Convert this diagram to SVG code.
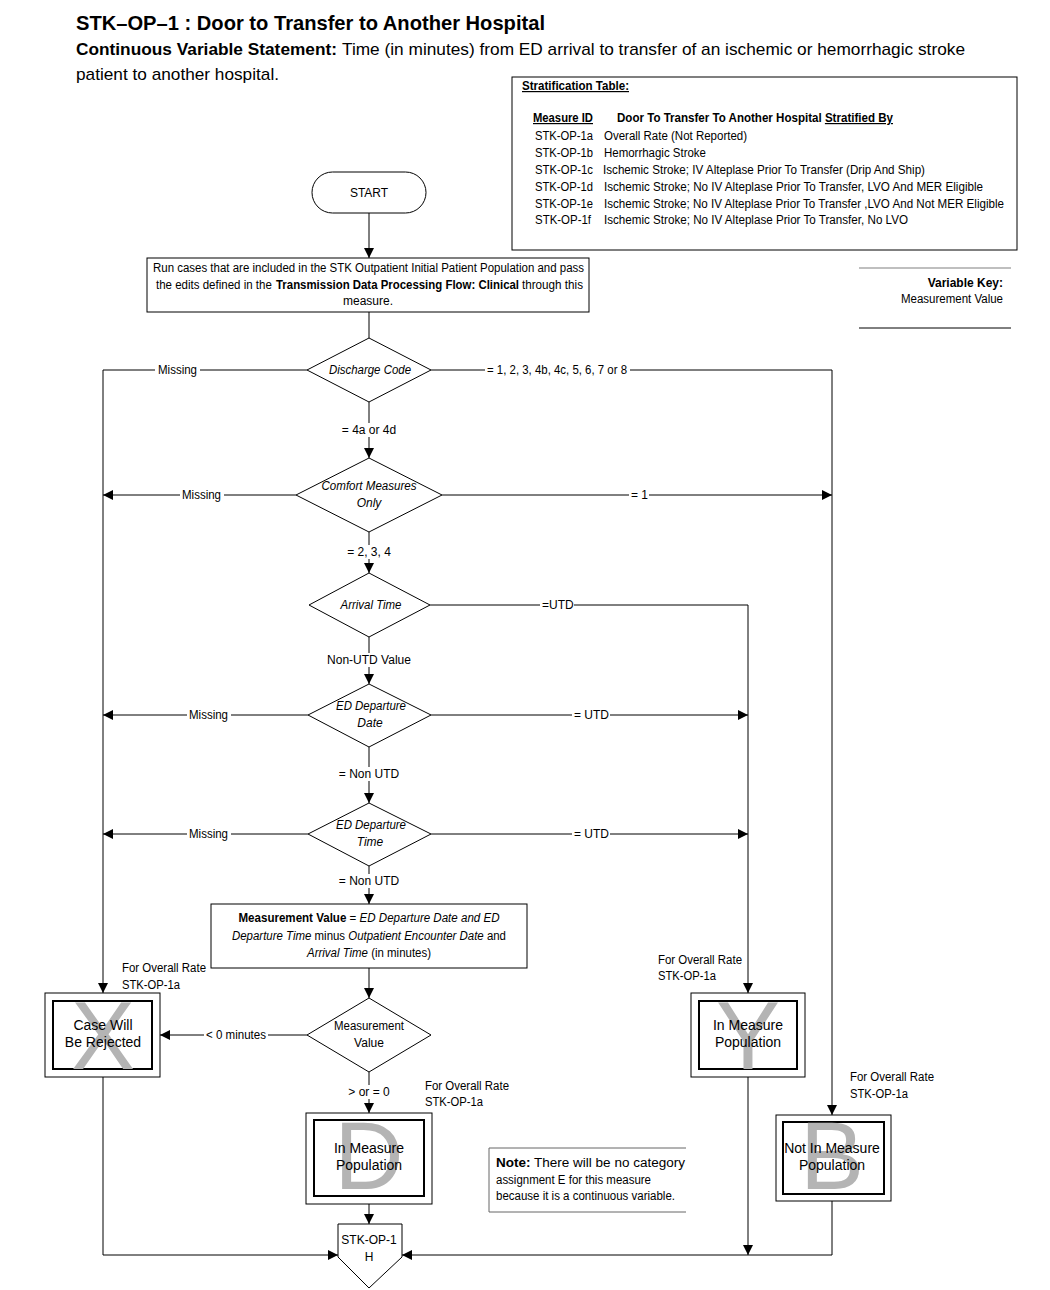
<svg xmlns="http://www.w3.org/2000/svg" width="1050" height="1290" viewBox="0 0 1050 1290">
<style>
text{font-family:"Liberation Sans",Arial,sans-serif;fill:#000}
.t12{font-size:12px}
.t14{font-size:14px}
.it{font-style:italic}
.b{font-weight:bold}
.mid{text-anchor:middle}
.end{text-anchor:end}
.box{fill:#fff;stroke:#000;stroke-width:1}
.inner{fill:none;stroke:#000;stroke-width:2}
.big{font-size:96px;fill:#b4b4b4;text-anchor:middle}
.ln{fill:none;stroke:#000;stroke-width:1}
.ul{text-decoration:underline}
</style>
<defs>
<marker id="ah" markerUnits="userSpaceOnUse" markerWidth="10" markerHeight="10" viewBox="0 0 10 10" refX="10" refY="5" orient="auto">
<path d="M0,0 L10,5 L0,10 z" fill="#000"/>
</marker>
</defs>
<rect width="1050" height="1290" fill="#fff"/>

<g id="title">
<text x="76" y="30" font-size="21" class="b" textLength="469" lengthAdjust="spacingAndGlyphs">STK–OP–1 : Door to Transfer to Another Hospital</text>
<text x="76" y="55" font-size="17" class="b" textLength="261" lengthAdjust="spacingAndGlyphs">Continuous Variable Statement:</text>
<text x="342" y="55" font-size="17" textLength="623" lengthAdjust="spacingAndGlyphs">Time (in minutes) from ED arrival to transfer of an ischemic or hemorrhagic stroke</text>
<text x="76" y="80" font-size="17" textLength="203" lengthAdjust="spacingAndGlyphs">patient to another hospital.</text>
</g>

<g id="strat-table">
<rect x="512" y="77" width="505" height="173" class="box"/>
<text x="522" y="90" class="t12 b ul" textLength="107" lengthAdjust="spacingAndGlyphs">Stratification Table:</text>
<text x="533" y="122" class="t12 b ul" textLength="60" lengthAdjust="spacingAndGlyphs">Measure ID</text>
<text x="617" y="122" class="t12 b" textLength="276" lengthAdjust="spacingAndGlyphs">Door To Transfer To Another Hospital <tspan class="ul">Stratified By</tspan></text>
<text x="535" y="140" class="t12" textLength="58" lengthAdjust="spacingAndGlyphs">STK-OP-1a</text>
<text x="604" y="140" class="t12" textLength="143" lengthAdjust="spacingAndGlyphs">Overall Rate (Not Reported)</text>
<text x="535" y="157" class="t12" textLength="58" lengthAdjust="spacingAndGlyphs">STK-OP-1b</text>
<text x="604" y="157" class="t12" textLength="102" lengthAdjust="spacingAndGlyphs">Hemorrhagic Stroke</text>
<text x="535" y="174" class="t12" textLength="58" lengthAdjust="spacingAndGlyphs">STK-OP-1c</text>
<text x="603" y="174" class="t12" textLength="322" lengthAdjust="spacingAndGlyphs">Ischemic Stroke; IV Alteplase Prior To Transfer (Drip And Ship)</text>
<text x="535" y="191" class="t12" textLength="58" lengthAdjust="spacingAndGlyphs">STK-OP-1d</text>
<text x="604" y="191" class="t12" textLength="379" lengthAdjust="spacingAndGlyphs">Ischemic Stroke; No IV Alteplase Prior To Transfer, LVO And MER Eligible</text>
<text x="535" y="208" class="t12" textLength="58" lengthAdjust="spacingAndGlyphs">STK-OP-1e</text>
<text x="604" y="208" class="t12" textLength="400" lengthAdjust="spacingAndGlyphs">Ischemic Stroke; No IV Alteplase Prior To Transfer ,LVO And Not MER Eligible</text>
<text x="535" y="224" class="t12" textLength="56" lengthAdjust="spacingAndGlyphs">STK-OP-1f</text>
<text x="604" y="224" class="t12" textLength="304" lengthAdjust="spacingAndGlyphs">Ischemic Stroke; No IV Alteplase Prior To Transfer, No LVO</text>
</g>

<g id="variable-key">
<line x1="859" y1="268" x2="1011" y2="268" stroke="#808080" stroke-width="1.2"/>
<text x="1003" y="287" class="t12 b end">Variable  Key:</text>
<text x="1003" y="303" class="t12 end" textLength="102" lengthAdjust="spacingAndGlyphs">Measurement Value</text>
<line x1="859" y1="328" x2="1011" y2="328" stroke="#000" stroke-width="1"/>
</g>

<g id="connectors">
<line x1="369" y1="213" x2="369" y2="258" class="ln" marker-end="url(#ah)"/>
<line x1="369" y1="312" x2="369" y2="338" class="ln"/>
<polyline points="307,370 103,370 103,993" class="ln" marker-end="url(#ah)"/>
<polyline points="431,370 832,370 832,1115" class="ln" marker-end="url(#ah)"/>
<line x1="369" y1="402" x2="369" y2="458" class="ln" marker-end="url(#ah)"/>
<line x1="296" y1="495" x2="103" y2="495" class="ln" marker-end="url(#ah)"/>
<line x1="442" y1="495" x2="832" y2="495" class="ln" marker-end="url(#ah)"/>
<line x1="369" y1="532" x2="369" y2="573" class="ln" marker-end="url(#ah)"/>
<polyline points="430,605 748,605 748,993" class="ln" marker-end="url(#ah)"/>
<line x1="369" y1="637" x2="369" y2="684" class="ln" marker-end="url(#ah)"/>
<line x1="308" y1="715" x2="103" y2="715" class="ln" marker-end="url(#ah)"/>
<line x1="431" y1="715" x2="748" y2="715" class="ln" marker-end="url(#ah)"/>
<line x1="369" y1="747" x2="369" y2="803" class="ln" marker-end="url(#ah)"/>
<line x1="308" y1="834" x2="103" y2="834" class="ln" marker-end="url(#ah)"/>
<line x1="431" y1="834" x2="748" y2="834" class="ln" marker-end="url(#ah)"/>
<line x1="369" y1="866" x2="369" y2="904" class="ln" marker-end="url(#ah)"/>
<line x1="369" y1="968" x2="369" y2="998" class="ln" marker-end="url(#ah)"/>
<line x1="307" y1="1035" x2="160" y2="1035" class="ln" marker-end="url(#ah)"/>
<line x1="369" y1="1072" x2="369" y2="1113" class="ln" marker-end="url(#ah)"/>
<line x1="369" y1="1204" x2="369" y2="1224" class="ln" marker-end="url(#ah)"/>
<polyline points="103,1077 103,1255 338,1255" class="ln" marker-end="url(#ah)"/>
<polyline points="832,1201 832,1255 402,1255" class="ln" marker-end="url(#ah)"/>
<line x1="748" y1="1077" x2="748" y2="1255" class="ln" marker-end="url(#ah)"/>
</g>

<g id="labels">
<rect x="155" y="363" width="45" height="14" fill="#fff"/>
<text x="158" y="374" class="t12" textLength="39" lengthAdjust="spacingAndGlyphs">Missing</text>
<rect x="485" y="363" width="145" height="14" fill="#fff"/>
<text x="487" y="374" class="t12" textLength="140" lengthAdjust="spacingAndGlyphs">= 1, 2, 3, 4b, 4c, 5, 6, 7 or 8</text>
<rect x="340" y="423" width="60" height="14" fill="#fff"/>
<text x="369" y="434" class="t12 mid">= 4a or 4d</text>
<rect x="180" y="488" width="44" height="14" fill="#fff"/>
<text x="182" y="499" class="t12" textLength="39" lengthAdjust="spacingAndGlyphs">Missing</text>
<rect x="629" y="488" width="20" height="14" fill="#fff"/>
<text x="631" y="499" class="t12">= 1</text>
<rect x="342" y="545" width="54" height="14" fill="#fff"/>
<text x="369" y="556" class="t12 mid">= 2, 3, 4</text>
<rect x="540" y="598" width="34" height="14" fill="#fff"/>
<text x="542" y="609" class="t12">=UTD</text>
<rect x="326" y="653" width="86" height="14" fill="#fff"/>
<text x="369" y="664" class="t12 mid">Non-UTD Value</text>
<rect x="187" y="708" width="44" height="14" fill="#fff"/>
<text x="189" y="719" class="t12" textLength="39" lengthAdjust="spacingAndGlyphs">Missing</text>
<rect x="572" y="708" width="38" height="14" fill="#fff"/>
<text x="574" y="719" class="t12">= UTD</text>
<rect x="338" y="767" width="62" height="14" fill="#fff"/>
<text x="369" y="778" class="t12 mid">= Non UTD</text>
<rect x="187" y="827" width="44" height="14" fill="#fff"/>
<text x="189" y="838" class="t12" textLength="39" lengthAdjust="spacingAndGlyphs">Missing</text>
<rect x="572" y="827" width="38" height="14" fill="#fff"/>
<text x="574" y="838" class="t12">= UTD</text>
<rect x="338" y="874" width="62" height="14" fill="#fff"/>
<text x="369" y="885" class="t12 mid">= Non UTD</text>
<rect x="204" y="1028" width="64" height="14" fill="#fff"/>
<text x="206" y="1039" class="t12" textLength="60" lengthAdjust="spacingAndGlyphs">&lt; 0 minutes</text>
<rect x="344" y="1085" width="50" height="14" fill="#fff"/>
<text x="369" y="1096" class="t12 mid">&gt; or = 0</text>
<text x="122" y="972" class="t12" textLength="84" lengthAdjust="spacingAndGlyphs">For Overall Rate</text>
<text x="122" y="989" class="t12" textLength="58" lengthAdjust="spacingAndGlyphs">STK-OP-1a</text>
<text x="658" y="964" class="t12" textLength="84" lengthAdjust="spacingAndGlyphs">For Overall Rate</text>
<text x="658" y="980" class="t12" textLength="58" lengthAdjust="spacingAndGlyphs">STK-OP-1a</text>
<text x="425" y="1090" class="t12" textLength="84" lengthAdjust="spacingAndGlyphs">For Overall Rate</text>
<text x="425" y="1106" class="t12" textLength="58" lengthAdjust="spacingAndGlyphs">STK-OP-1a</text>
<text x="850" y="1081" class="t12" textLength="84" lengthAdjust="spacingAndGlyphs">For Overall Rate</text>
<text x="850" y="1098" class="t12" textLength="58" lengthAdjust="spacingAndGlyphs">STK-OP-1a</text>
</g>

<g id="start">
<rect x="312" y="172" width="114" height="41" rx="20.5" ry="20.5" class="box"/>
<text x="369" y="197" class="t12 mid">START</text>
</g>

<g id="run-cases">
<rect x="147" y="258" width="442" height="54" class="box"/>
<text x="153" y="272" class="t12" textLength="431" lengthAdjust="spacingAndGlyphs">Run cases that are included in the STK Outpatient Initial Patient Population and pass</text>
<text x="156" y="289" class="t12">
<tspan textLength="119" lengthAdjust="spacingAndGlyphs">the edits defined in the </tspan><tspan x="276" class="b" textLength="243" lengthAdjust="spacingAndGlyphs">Transmission Data Processing Flow: Clinical</tspan><tspan x="522" textLength="61" lengthAdjust="spacingAndGlyphs">through this</tspan></text>
<text x="368" y="305" class="t12 mid">measure.</text>
</g>

<g id="discharge-code">
<polygon points="369,338 431,370 369,402 307,370" class="box"/>
<text x="370" y="374" class="t12 it mid" textLength="82" lengthAdjust="spacingAndGlyphs">Discharge Code</text>
</g>

<g id="comfort-measures">
<polygon points="369,458 442,495 369,532 296,495" class="box"/>
<text x="369" y="490" class="t12 it mid" textLength="95" lengthAdjust="spacingAndGlyphs">Comfort Measures</text>
<text x="369" y="507" class="t12 it mid">Only</text>
</g>

<g id="arrival-time">
<polygon points="369,573 430,605 369,637 309,605" class="box"/>
<text x="371" y="609" class="t12 it mid" textLength="61" lengthAdjust="spacingAndGlyphs">Arrival Time</text>
</g>

<g id="ed-departure-date">
<polygon points="369,684 431,715 369,747 308,715" class="box"/>
<text x="371" y="710" class="t12 it mid" textLength="70" lengthAdjust="spacingAndGlyphs">ED Departure</text>
<text x="370" y="727" class="t12 it mid">Date</text>
</g>

<g id="ed-departure-time">
<polygon points="369,803 431,834 369,866 308,834" class="box"/>
<text x="371" y="829" class="t12 it mid" textLength="70" lengthAdjust="spacingAndGlyphs">ED Departure</text>
<text x="370" y="846" class="t12 it mid">Time</text>
</g>

<g id="measurement-calc">
<rect x="211" y="904" width="316" height="64" class="box"/>
<text x="369" y="922" class="t12 mid" textLength="261" lengthAdjust="spacingAndGlyphs"><tspan class="b">Measurement Value</tspan> = <tspan class="it">ED Departure Date and ED</tspan></text>
<text x="369" y="940" class="t12 mid" textLength="274" lengthAdjust="spacingAndGlyphs"><tspan class="it">Departure Time</tspan> minus <tspan class="it">Outpatient Encounter Date</tspan> and</text>
<text x="369" y="957" class="t12 mid" textLength="124" lengthAdjust="spacingAndGlyphs"><tspan class="it">Arrival Time</tspan> (in minutes)</text>
</g>

<g id="measurement-value">
<polygon points="369,998 431,1035 369,1072 307,1035" class="box"/>
<text x="369" y="1030" class="t12 mid" textLength="70" lengthAdjust="spacingAndGlyphs">Measurement</text>
<text x="369" y="1047" class="t12 mid">Value</text>
</g>

<g id="case-rejected">
<rect x="45" y="993" width="115" height="84" class="box"/>
<rect x="53" y="1001" width="99" height="68" class="inner"/>
<text x="103" y="1069" class="big">X</text>
<text x="103" y="1030" class="t14 mid">Case Will</text>
<text x="103" y="1047" class="t14 mid">Be Rejected</text>
</g>

<g id="in-measure-y">
<rect x="691" y="993" width="114" height="84" class="box"/>
<rect x="699" y="1001" width="98" height="68" class="inner"/>
<text x="748" y="1069" class="big">Y</text>
<text x="748" y="1030" class="t14 mid">In Measure</text>
<text x="748" y="1047" class="t14 mid">Population</text>
</g>

<g id="in-measure-d">
<rect x="306" y="1113" width="126" height="91" class="box"/>
<rect x="314" y="1120" width="110" height="76" class="inner"/>
<text x="369" y="1189" class="big">D</text>
<text x="369" y="1153" class="t14 mid">In Measure</text>
<text x="369" y="1170" class="t14 mid">Population</text>
</g>

<g id="not-in-measure-b">
<rect x="776" y="1115" width="115" height="86" class="box"/>
<rect x="783" y="1122" width="101" height="72" class="inner"/>
<text x="832" y="1189" class="big">B</text>
<text x="832" y="1153" class="t14 mid">Not In Measure</text>
<text x="832" y="1170" class="t14 mid">Population</text>
</g>

<g id="note">
<polyline points="686,1148 489,1148 489,1212 686,1212" fill="#fff" stroke="#666" stroke-width="1"/>
<text x="496" y="1167" class="t12" textLength="189" lengthAdjust="spacingAndGlyphs"><tspan class="b">Note:</tspan> There will be no category</text>
<text x="496" y="1184" class="t12" textLength="155" lengthAdjust="spacingAndGlyphs">assignment E for this measure</text>
<text x="496" y="1200" class="t12" textLength="179" lengthAdjust="spacingAndGlyphs">because it is a continuous variable.</text>
</g>

<g id="offpage-h">
<polygon points="338,1224 402,1224 402,1257 369,1288 338,1257" class="box"/>
<text x="369" y="1244" class="t12 mid">STK-OP-1</text>
<text x="369" y="1261" class="t12 mid">H</text>
</g>
</svg>
